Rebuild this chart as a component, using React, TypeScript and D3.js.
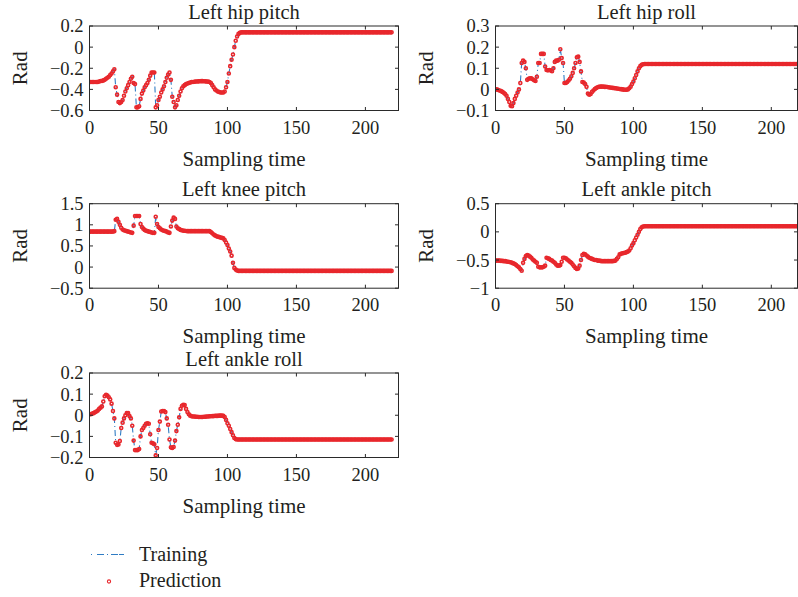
import React from 'react';
import * as d3 from 'd3';

// ---------- data ----------
const xTicks = [0, 50, 100, 150, 200];

const hipPitch = [
  -0.33,-0.33,-0.33,-0.33,-0.33,-0.33,-0.33,-0.325,-0.32,-0.32,
  -0.315,-0.31,-0.30,-0.29,-0.28,-0.265,-0.25,-0.23,-0.21,-0.38,
  -0.45,-0.52,-0.53,-0.52,-0.50,-0.46,-0.42,-0.39,-0.36,-0.33,
  -0.30,-0.28,-0.34,-0.35,-0.57,-0.57,-0.56,-0.49,-0.44,-0.41,
  -0.38,-0.36,-0.34,-0.31,-0.27,-0.24,-0.24,-0.24,-0.57,-0.55,
  -0.50,-0.47,-0.43,-0.40,-0.37,-0.33,-0.29,-0.26,-0.24,-0.31,
  -0.47,-0.52,-0.57,-0.55,-0.50,-0.46,-0.42,-0.39,-0.37,-0.36,
  -0.35,-0.345,-0.34,-0.335,-0.33,-0.33,-0.328,-0.326,-0.325,-0.324,
  -0.323,-0.322,-0.322,-0.323,-0.324,-0.325,-0.327,-0.33,-0.34,-0.36,
  -0.38,-0.40,-0.41,-0.42,-0.425,-0.43,-0.43,-0.43,-0.42,-0.38,
  -0.33,-0.25,-0.18,-0.12,-0.07,0.0,0.06,0.10,0.125,0.135,
  0.14,0.14,0.14,0.14,0.14,0.14,0.14,0.14,0.14,0.14,
  0.14,0.14,0.14,0.14,0.14,0.14,0.14,0.14,0.14,0.14,
  0.14,0.14,0.14,0.14,0.14,0.14,0.14,0.14,0.14,0.14,
  0.14,0.14,0.14,0.14,0.14,0.14,0.14,0.14,0.14,0.14,
  0.14,0.14,0.14,0.14,0.14,0.14,0.14,0.14,0.14,0.14,
  0.14,0.14,0.14,0.14,0.14,0.14,0.14,0.14,0.14,0.14,
  0.14,0.14,0.14,0.14,0.14,0.14,0.14,0.14,0.14,0.14,
  0.14,0.14,0.14,0.14,0.14,0.14,0.14,0.14,0.14,0.14,
  0.14,0.14,0.14,0.14,0.14,0.14,0.14,0.14,0.14,0.14,
  0.14,0.14,0.14,0.14,0.14,0.14,0.14,0.14,0.14,0.14,
  0.14,0.14,0.14,0.14,0.14,0.14,0.14,0.14,0.14,0.14,
];

const hipRoll = [
  0.0,0.0,-0.003,-0.005,-0.008,-0.012,-0.016,-0.022,-0.03,-0.045,
  -0.06,-0.078,-0.08,-0.065,-0.045,-0.03,-0.015,0.0,0.03,0.125,
  0.136,0.13,0.1,0.045,0.05,0.053,0.052,0.048,0.043,0.04,
  0.06,0.125,0.125,0.168,0.168,0.168,0.108,0.092,0.09,0.092,
  0.09,0.086,0.1,0.13,0.136,0.136,0.14,0.19,0.148,0.125,
  0.03,0.03,0.035,0.042,0.05,0.062,0.078,0.1,0.125,0.152,
  0.155,0.13,0.085,0.035,0.032,0.025,0.012,-0.02,-0.025,-0.022,
  -0.012,-0.005,0.002,0.006,0.01,0.012,0.013,0.013,0.013,0.012,
  0.012,0.011,0.01,0.009,0.008,0.007,0.006,0.005,0.004,0.003,
  0.002,0.001,0.0,-0.001,-0.002,-0.002,0.0,0.005,0.013,0.025,
  0.037,0.053,0.068,0.085,0.1,0.11,0.116,0.119,0.12,0.12,
  0.12,0.12,0.12,0.12,0.12,0.12,0.12,0.12,0.12,0.12,
  0.12,0.12,0.12,0.12,0.12,0.12,0.12,0.12,0.12,0.12,
  0.12,0.12,0.12,0.12,0.12,0.12,0.12,0.12,0.12,0.12,
  0.12,0.12,0.12,0.12,0.12,0.12,0.12,0.12,0.12,0.12,
  0.12,0.12,0.12,0.12,0.12,0.12,0.12,0.12,0.12,0.12,
  0.12,0.12,0.12,0.12,0.12,0.12,0.12,0.12,0.12,0.12,
  0.12,0.12,0.12,0.12,0.12,0.12,0.12,0.12,0.12,0.12,
  0.12,0.12,0.12,0.12,0.12,0.12,0.12,0.12,0.12,0.12,
  0.12,0.12,0.12,0.12,0.12,0.12,0.12,0.12,0.12,0.12,
  0.12,0.12,0.12,0.12,0.12,0.12,0.12,0.12,0.12,0.12,
  0.12,0.12,0.12,0.12,0.12,0.12,0.12,0.12,0.12,0.12,
];

const kneePitch = [
  0.84,0.84,0.84,0.84,0.84,0.84,0.84,0.84,0.84,0.84,
  0.84,0.84,0.84,0.84,0.84,0.84,0.84,0.84,0.85,1.12,
  1.14,1.07,1.0,0.93,0.89,0.87,0.86,0.85,0.84,0.83,
  0.82,0.81,0.98,1.21,1.21,1.21,1.21,1.02,0.95,0.91,
  0.88,0.86,0.85,0.84,0.83,0.82,0.81,0.81,1.19,1.02,
  0.95,0.92,0.89,0.87,0.86,0.85,0.84,0.82,0.81,0.96,
  1.1,1.17,1.14,0.96,0.92,0.9,0.88,0.87,0.86,0.86,
  0.855,0.85,0.85,0.85,0.85,0.85,0.85,0.85,0.85,0.85,
  0.85,0.85,0.85,0.85,0.85,0.85,0.85,0.85,0.83,0.80,
  0.77,0.75,0.73,0.72,0.71,0.70,0.69,0.68,0.64,0.58,
  0.52,0.44,0.37,0.27,0.1,-0.02,-0.06,-0.08,-0.09,-0.09,
  -0.09,-0.09,-0.09,-0.09,-0.09,-0.09,-0.09,-0.09,-0.09,-0.09,
  -0.09,-0.09,-0.09,-0.09,-0.09,-0.09,-0.09,-0.09,-0.09,-0.09,
  -0.09,-0.09,-0.09,-0.09,-0.09,-0.09,-0.09,-0.09,-0.09,-0.09,
  -0.09,-0.09,-0.09,-0.09,-0.09,-0.09,-0.09,-0.09,-0.09,-0.09,
  -0.09,-0.09,-0.09,-0.09,-0.09,-0.09,-0.09,-0.09,-0.09,-0.09,
  -0.09,-0.09,-0.09,-0.09,-0.09,-0.09,-0.09,-0.09,-0.09,-0.09,
  -0.09,-0.09,-0.09,-0.09,-0.09,-0.09,-0.09,-0.09,-0.09,-0.09,
  -0.09,-0.09,-0.09,-0.09,-0.09,-0.09,-0.09,-0.09,-0.09,-0.09,
  -0.09,-0.09,-0.09,-0.09,-0.09,-0.09,-0.09,-0.09,-0.09,-0.09,
  -0.09,-0.09,-0.09,-0.09,-0.09,-0.09,-0.09,-0.09,-0.09,-0.09,
  -0.09,-0.09,-0.09,-0.09,-0.09,-0.09,-0.09,-0.09,-0.09,-0.09,
];

const anklePitch = [
  -0.51,-0.51,-0.51,-0.51,-0.515,-0.515,-0.52,-0.52,-0.525,-0.53,
  -0.535,-0.54,-0.55,-0.56,-0.57,-0.59,-0.61,-0.63,-0.66,-0.69,
  -0.55,-0.48,-0.43,-0.41,-0.42,-0.44,-0.46,-0.49,-0.51,-0.53,
  -0.55,-0.62,-0.63,-0.63,-0.63,-0.62,-0.6,-0.46,-0.47,-0.48,
  -0.5,-0.51,-0.53,-0.55,-0.58,-0.6,-0.6,-0.59,-0.53,-0.46,
  -0.46,-0.47,-0.49,-0.51,-0.53,-0.55,-0.58,-0.61,-0.64,-0.66,
  -0.65,-0.6,-0.5,-0.41,-0.39,-0.4,-0.42,-0.44,-0.46,-0.47,
  -0.48,-0.49,-0.5,-0.5,-0.51,-0.51,-0.515,-0.52,-0.52,-0.52,
  -0.52,-0.52,-0.52,-0.52,-0.52,-0.52,-0.515,-0.51,-0.48,-0.45,
  -0.4,-0.39,-0.38,-0.375,-0.37,-0.36,-0.35,-0.33,-0.29,-0.24,
  -0.2,-0.15,-0.1,-0.05,0.0,0.05,0.08,0.095,0.1,0.1,
  0.1,0.1,0.1,0.1,0.1,0.1,0.1,0.1,0.1,0.1,
  0.1,0.1,0.1,0.1,0.1,0.1,0.1,0.1,0.1,0.1,
  0.1,0.1,0.1,0.1,0.1,0.1,0.1,0.1,0.1,0.1,
  0.1,0.1,0.1,0.1,0.1,0.1,0.1,0.1,0.1,0.1,
  0.1,0.1,0.1,0.1,0.1,0.1,0.1,0.1,0.1,0.1,
  0.1,0.1,0.1,0.1,0.1,0.1,0.1,0.1,0.1,0.1,
  0.1,0.1,0.1,0.1,0.1,0.1,0.1,0.1,0.1,0.1,
  0.1,0.1,0.1,0.1,0.1,0.1,0.1,0.1,0.1,0.1,
  0.1,0.1,0.1,0.1,0.1,0.1,0.1,0.1,0.1,0.1,
  0.1,0.1,0.1,0.1,0.1,0.1,0.1,0.1,0.1,0.1,
  0.1,0.1,0.1,0.1,0.1,0.1,0.1,0.1,0.1,0.1,
];

const ankleRoll = [
  0.005,0.005,0.008,0.01,0.014,0.018,0.022,0.03,0.036,0.042,
  0.065,0.09,0.097,0.093,0.085,0.075,0.055,0.02,-0.015,-0.13,
  -0.14,-0.138,-0.122,-0.06,-0.035,-0.015,0.0,0.01,0.01,-0.004,
  -0.015,-0.05,-0.12,-0.165,-0.165,-0.165,-0.16,-0.1,-0.07,-0.06,
  -0.05,-0.04,-0.038,-0.04,-0.09,-0.13,-0.133,-0.137,-0.19,-0.155,
  -0.07,-0.03,0.018,0.02,0.02,0.015,-0.015,-0.045,-0.115,-0.152,
  -0.155,-0.15,-0.12,-0.075,-0.045,-0.01,0.03,0.045,0.05,0.048,
  0.03,0.015,0.005,-0.002,-0.005,-0.006,-0.006,-0.007,-0.007,-0.008,
  -0.008,-0.008,-0.008,-0.007,-0.007,-0.006,-0.006,-0.005,-0.005,-0.004,
  -0.004,-0.003,-0.003,-0.003,-0.002,-0.002,-0.002,-0.003,-0.008,-0.022,
  -0.038,-0.05,-0.065,-0.08,-0.095,-0.108,-0.113,-0.115,-0.115,-0.115,
  -0.115,-0.115,-0.115,-0.115,-0.115,-0.115,-0.115,-0.115,-0.115,-0.115,
  -0.115,-0.115,-0.115,-0.115,-0.115,-0.115,-0.115,-0.115,-0.115,-0.115,
  -0.115,-0.115,-0.115,-0.115,-0.115,-0.115,-0.115,-0.115,-0.115,-0.115,
  -0.115,-0.115,-0.115,-0.115,-0.115,-0.115,-0.115,-0.115,-0.115,-0.115,
  -0.115,-0.115,-0.115,-0.115,-0.115,-0.115,-0.115,-0.115,-0.115,-0.115,
  -0.115,-0.115,-0.115,-0.115,-0.115,-0.115,-0.115,-0.115,-0.115,-0.115,
  -0.115,-0.115,-0.115,-0.115,-0.115,-0.115,-0.115,-0.115,-0.115,-0.115,
  -0.115,-0.115,-0.115,-0.115,-0.115,-0.115,-0.115,-0.115,-0.115,-0.115,
  -0.115,-0.115,-0.115,-0.115,-0.115,-0.115,-0.115,-0.115,-0.115,-0.115,
  -0.115,-0.115,-0.115,-0.115,-0.115,-0.115,-0.115,-0.115,-0.115,-0.115,
  -0.115,-0.115,-0.115,-0.115,-0.115,-0.115,-0.115,-0.115,-0.115,-0.115,
];

const titles = ['Left hip pitch', 'Left hip roll', 'Left knee pitch', 'Left ankle pitch', 'Left ankle roll'];
const yTicksList = [
  [0.2, 0, -0.2, -0.4, -0.6],
  [0.3, 0.2, 0.1, 0, -0.1],
  [1.5, 1, 0.5, 0, -0.5],
  [0.5, 0, -0.5, -1],
  [0.2, 0.1, 0, -0.1, -0.2],
];
const seriesList = [hipPitch, hipRoll, kneePitch, anklePitch, ankleRoll];
const legendLabels = ['Training', 'Prediction'];

// ---------- layout ----------
const W = 798;
const H = 597;
const FONT = '"Liberation Serif", "Times New Roman", serif';
const TEXT = '#231f20';
const AXIS = '#2a2a2a';
const RED = '#e8272c';
const BLUE = '#2f7cc4';
const cols = [
  { left: 89.5, width: 309, xMax: 224 },
  { left: 495.5, width: 302, xMax: 219 },
];
const rowTops = [26, 203.7, 373];
const PH = 84.5;
const layout = [
  { col: 0, row: 0 },
  { col: 1, row: 0 },
  { col: 0, row: 1 },
  { col: 1, row: 1 },
  { col: 0, row: 2 },
];

const fmt = (d: number) => (d === 0 ? '0' : String(d).replace('-', '\u2212'));

function Panel({ idx }: { idx: number }) {
  const { col, row } = layout[idx];
  const c = cols[col];
  const top = rowTops[row];
  const left = c.left;
  const right = left + c.width;
  const bottom = top + PH;
  const ticks = yTicksList[idx];
  const values = seriesList[idx];
  const x = d3.scaleLinear().domain([0, c.xMax]).range([left, right]);
  const y = d3
    .scaleLinear()
    .domain([d3.min(ticks) as number, d3.max(ticks) as number])
    .range([bottom, top]);
  const line = d3
    .line<number>()
    .x((_, i) => x(i))
    .y((d) => y(d));
  const clipId = `clip-${idx}`;
  const tl = 3.5;
  return (
    <g>
      <defs>
        <clipPath id={clipId}>
          <rect x={left} y={top - 3} width={c.width} height={PH + 6} />
        </clipPath>
      </defs>
      <text x={(left + right) / 2} y={top - 7.5} textAnchor="middle" fontSize={20.5} fill={TEXT}>
        {titles[idx]}
      </text>
      <g clipPath={`url(#${clipId})`}>
        <path d={line(values) || ''} fill="none" stroke={BLUE} strokeWidth={1.1} strokeDasharray="6,3,1,3" />
        {values.map((v, i) => (
          <circle key={i} cx={x(i)} cy={y(v)} r={1.5} fill="none" stroke={RED} strokeWidth={1.6} />
        ))}
      </g>
      <rect x={left} y={top} width={c.width} height={PH} fill="none" stroke={AXIS} strokeWidth={1} />
      {xTicks.map((t) => (
        <g key={`x${t}`}>
          <line x1={x(t)} x2={x(t)} y1={bottom} y2={bottom - tl} stroke={AXIS} />
          <line x1={x(t)} x2={x(t)} y1={top} y2={top + tl} stroke={AXIS} />
          <text x={x(t)} y={bottom + 23} textAnchor="middle" fontSize={18.5} fill={TEXT}>
            {fmt(t)}
          </text>
        </g>
      ))}
      {ticks.map((t) => (
        <g key={`y${t}`}>
          <line x1={left} x2={left + tl} y1={y(t)} y2={y(t)} stroke={AXIS} />
          <line x1={right} x2={right - tl} y1={y(t)} y2={y(t)} stroke={AXIS} />
          <text x={left - 6} y={y(t)} dy="0.35em" textAnchor="end" fontSize={18.5} fill={TEXT}>
            {fmt(t)}
          </text>
        </g>
      ))}
      <text x={(left + right) / 2} y={bottom + 55} textAnchor="middle" fontSize={21} fill={TEXT}>
        Sampling time
      </text>
      <text
        transform={`translate(${left - 63},${(top + bottom) / 2}) rotate(-90)`}
        textAnchor="middle"
        fontSize={21}
        fill={TEXT}
      >
        Rad
      </text>
    </g>
  );
}

export default function App() {
  return (
    <svg
      width={W}
      height={H}
      viewBox={`0 0 ${W} ${H}`}
      style={{ position: 'absolute', left: 0, top: 0, background: '#fff' }}
      fontFamily={FONT}
    >
      <rect width={W} height={H} fill="#fff" />
      {titles.map((_, i) => (
        <Panel key={i} idx={i} />
      ))}
      <g>
        <line x1={91} x2={125} y1={554.5} y2={554.5} stroke={BLUE} strokeWidth={1.2} strokeDasharray="1,5,7,3,1,3,7" />
        <text x={139} y={560.5} fontSize={20} fill={TEXT}>
          {legendLabels[0]}
        </text>
        <circle cx={109} cy={581.5} r={1.6} fill="none" stroke={RED} strokeWidth={1.1} />
        <text x={139} y={587} fontSize={20} fill={TEXT}>
          {legendLabels[1]}
        </text>
      </g>
    </svg>
  );
}
